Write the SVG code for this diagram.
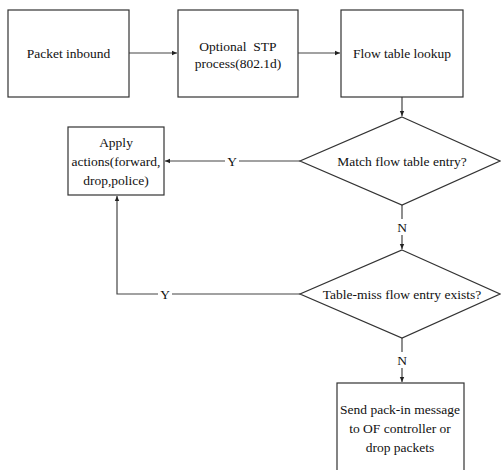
<svg xmlns="http://www.w3.org/2000/svg" width="501" height="470" viewBox="0 0 501 470">
<defs>
<marker id="ah" markerWidth="6" markerHeight="6" refX="5" refY="3" orient="auto" markerUnits="userSpaceOnUse">
<path d="M0,0.8 L5,3 L0,5.2 Z" fill="#222"/>
</marker>
<style>
.n{fill:#fff;stroke:#333;stroke-width:1.2}
.t{font-size:13.5px;fill:#111;text-anchor:middle;dominant-baseline:central;white-space:pre}
.c{fill:none;stroke:#444;stroke-width:1.2}
</style>
</defs>
<rect width="501" height="470" fill="#fff"/>
<g font-family="'Liberation Serif', 'DejaVu Serif', serif">
<g id="connectors">
<line class="c" x1="129" y1="53" x2="177" y2="53" marker-end="url(#ah)"/>
<line class="c" x1="298" y1="53" x2="340" y2="53" marker-end="url(#ah)"/>
<line class="c" x1="402" y1="97" x2="402" y2="116" marker-end="url(#ah)"/>
<line class="c" x1="300" y1="161" x2="165" y2="161" marker-end="url(#ah)"/>
<line class="c" x1="402" y1="205" x2="402" y2="249" marker-end="url(#ah)"/>
<polyline class="c" points="300,294 117,294 117,196" marker-end="url(#ah)"/>
<line class="c" x1="402" y1="338" x2="402" y2="382" marker-end="url(#ah)"/>
<rect x="225" y="153" width="14" height="16" fill="#fff"/>
<text class="t" x="232" y="161">Y</text>
<rect x="395" y="219" width="14" height="16" fill="#fff"/>
<text class="t" x="402" y="227">N</text>
<rect x="158" y="286" width="14" height="16" fill="#fff"/>
<text class="t" x="165" y="294">Y</text>
<rect x="395" y="352" width="14" height="16" fill="#fff"/>
<text class="t" x="402" y="360">N</text>
</g>
<g id="packet-inbound">
<rect class="n" x="8" y="10" width="121" height="87"/>
<text class="t" x="68.5" y="53">Packet inbound</text>
</g>
<g id="stp">
<rect class="n" x="178" y="10" width="120" height="87"/>
<text class="t" x="238" y="46" xml:space="preserve">Optional  STP</text>
<text class="t" x="238" y="63">process(802.1d)</text>
</g>
<g id="lookup">
<rect class="n" x="341" y="10" width="122" height="87"/>
<text class="t" x="402" y="53">Flow table lookup</text>
</g>
<g id="match">
<polygon class="n" points="402,117 500,161 402,205 300,161"/>
<text class="t" x="402" y="161">Match flow table entry?</text>
</g>
<g id="apply">
<rect class="n" x="68" y="127" width="96" height="68"/>
<text class="t" x="116" y="142">Apply</text>
<text class="t" x="116" y="161">actions(forward,</text>
<text class="t" x="116" y="180">drop,police)</text>
</g>
<g id="table-miss">
<polygon class="n" points="402,250 500,294 402,338 300,294"/>
<text class="t" x="402" y="294">Table-miss flow entry exists?</text>
</g>
<g id="send">
<rect class="n" x="337" y="383" width="127" height="95"/>
<text class="t" x="400" y="409">Send pack-in message</text>
<text class="t" x="400" y="428">to OF controller or</text>
<text class="t" x="400" y="447">drop packets</text>
</g>
</g>
</svg>
